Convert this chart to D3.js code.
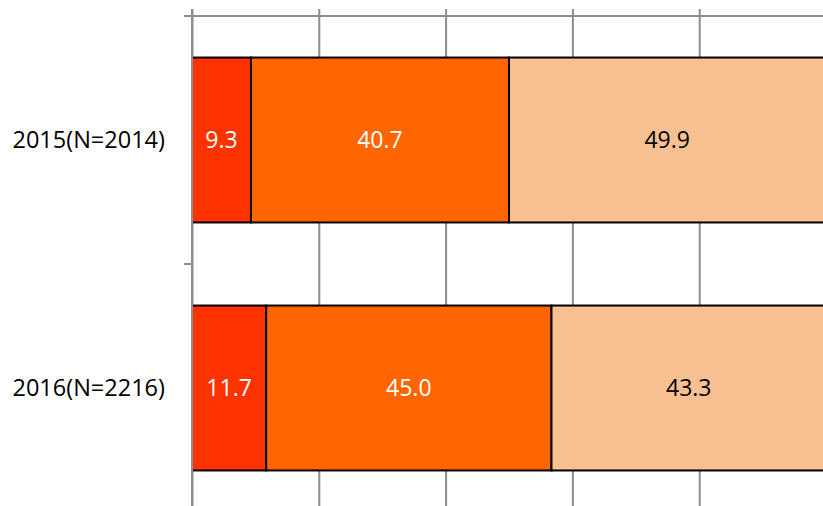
<!DOCTYPE html>
<html>
<head>
<meta charset="utf-8">
<script src="https://cdn.jsdelivr.net/npm/d3@7"></script>
<style>
  body { margin: 0; background: #fff; }
  svg { display: block; }
</style>
</head>
<body>
<div id="chart"></div>
<script>
var categories = ['2015(N=2014)', '2016(N=2216)'];
var seriesNames = ['a', 'b', 'c'];
var seriesA = [9.3, 11.7];
var seriesB = [40.7, 45.0];
var seriesC = [49.9, 43.3];
var xTicks = [0, 20, 40, 60, 80, 100];

var colors = ['#ff3300', '#ff6600', '#f9c192'];
var labelColors = ['#fff', '#fff', '#000'];

var chartWidth = 823;
var chartHeight = 506;
var svg = d3.select('#chart')
    .append('svg')
    .attr('width', chartWidth)
    .attr('height', chartHeight);

// Scales (plot continues past the right/bottom edge of the picture)
var scaleX = d3.scaleLinear()
    .domain([0, 100])
    .range([192, 826]);

var scaleY = d3.scaleBand()
    .domain(categories)
    .range([16, 512])
    .paddingInner(0.335)
    .paddingOuter(0.1675);

// Gridlines
svg.append('g')
    .attr('transform', 'translate(0,16)')
    .call(d3.axisTop(scaleX).tickValues(xTicks).tickSizeInner(7).tickSizeOuter(0).tickFormat(''))
    .call(function(g) {
      g.select('.domain').attr('stroke', '#8c8c8c').attr('stroke-width', 2)
        .attr('d', 'M184,0H' + chartWidth);
      g.selectAll('.tick line').attr('stroke', '#8c8c8c').attr('stroke-width', 2);
    });

svg.append('g')
    .attr('transform', 'translate(0,16)')
    .call(d3.axisBottom(scaleX).tickValues(xTicks).tickSize(500).tickFormat(''))
    .call(function(g) {
      g.select('.domain').remove();
      g.selectAll('.tick line').attr('stroke', '#8c8c8c').attr('stroke-width', 2);
    });

// Category axis ticks at band boundaries
var bounds = categories.map(function(d) { return scaleY(d) - scaleY.step() * scaleY.paddingInner() / 2; });
bounds.push(scaleY.range()[1]);
svg.append('g')
    .selectAll('line')
    .data(bounds)
    .enter()
    .append('line')
    .attr('x1', 184)
    .attr('x2', 192)
    .attr('y1', function(d) { return d; })
    .attr('y2', function(d) { return d; })
    .attr('stroke', '#8c8c8c')
    .attr('stroke-width', 2);

// Stacked data
var rows = categories.map(function(c, i) {
  return { cat: c, a: seriesA[i], b: seriesB[i], c: seriesC[i] };
});
var stacked = d3.stack().keys(seriesNames)(rows);

var layers = svg.selectAll('g.layer')
    .data(stacked)
    .enter()
    .append('g')
    .attr('class', 'layer');

layers.selectAll('rect')
    .data(function(d) { return d; })
    .enter()
    .append('rect')
    .attr('x', function(d) { return scaleX(d[0]); })
    .attr('y', function(d) { return scaleY(d.data.cat); })
    .attr('width', function(d) { return scaleX(d[1]) - scaleX(d[0]); })
    .attr('height', scaleY.bandwidth())
    .attr('fill', function(d, i, n) { return colors[seriesNames.indexOf(d3.select(n[i].parentNode).datum().key)]; })
    .attr('stroke', '#000')
    .attr('stroke-width', 2);

// Value labels
layers.each(function(layer, li) {
  d3.select(this).selectAll('text')
      .data(layer)
      .enter()
      .append('text')
      .text(function(d) { return d3.format('.1f')(d[1] - d[0]); })
      .attr('x', function(d) { return (scaleX(d[0]) + scaleX(d[1])) / 2; })
      .attr('y', function(d) { return scaleY(d.data.cat) + scaleY.bandwidth() / 2; })
      .attr('dy', '0.36em')
      .attr('text-anchor', 'middle')
      .attr('font-family', 'Open Sans, sans-serif')
      .attr('font-size', 23)
      .attr('fill', labelColors[li]);
});

// Category labels
svg.append('g')
    .selectAll('text')
    .data(categories)
    .enter()
    .append('text')
    .text(function(d) { return d; })
    .attr('x', 165)
    .attr('y', function(d) { return scaleY(d) + scaleY.bandwidth() / 2; })
    .attr('dy', '0.36em')
    .attr('text-anchor', 'end')
    .attr('font-family', 'Open Sans, sans-serif')
    .attr('font-size', 23.5)
    .attr('fill', '#000');

// Value axis line
svg.append('line')
    .attr('x1', 192).attr('x2', 192)
    .attr('y1', 9).attr('y2', chartHeight)
    .attr('stroke', '#8c8c8c')
    .attr('stroke-width', 2);
</script>
</body>
</html>
